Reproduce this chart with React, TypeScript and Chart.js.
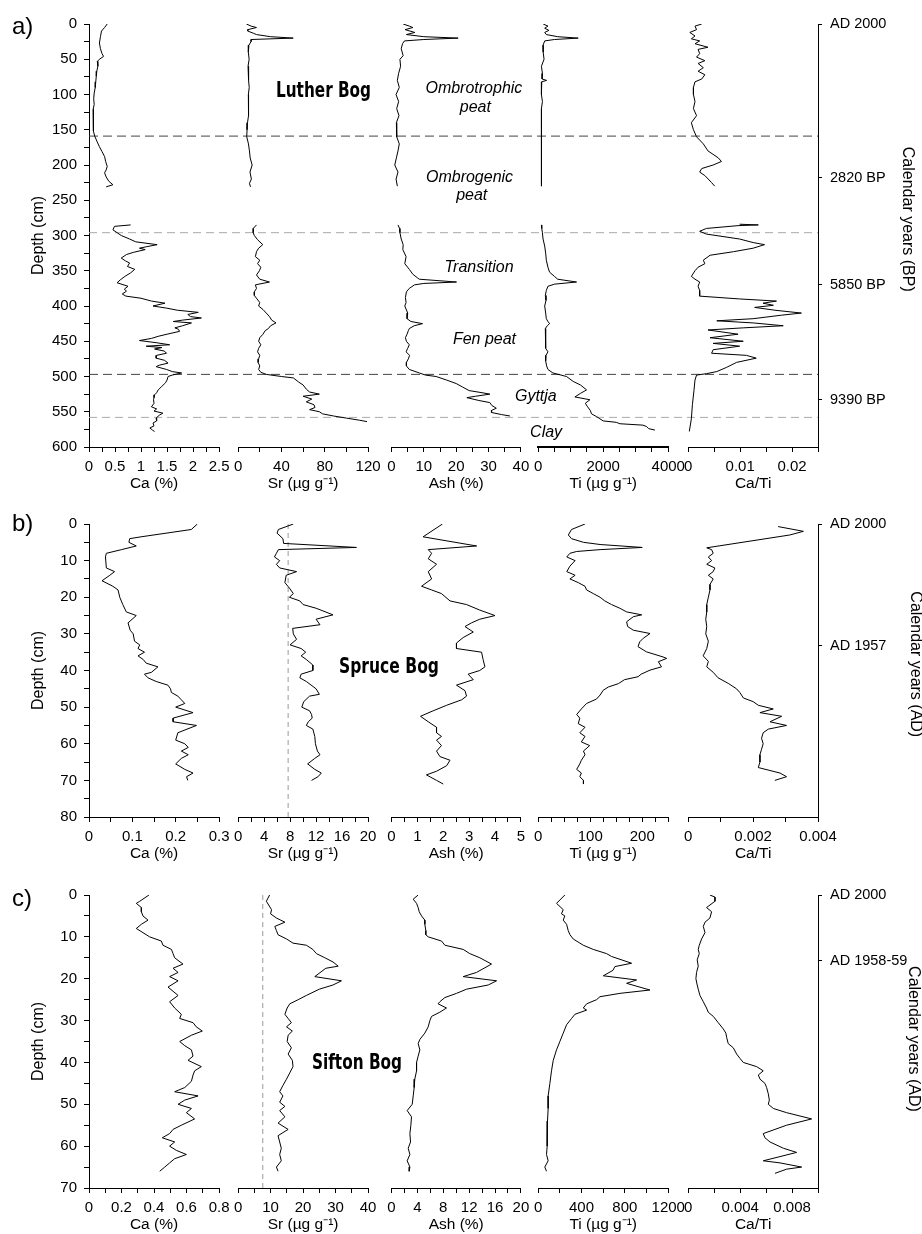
import React, { useEffect, useRef } from 'react';
import { Chart, registerables } from 'chart.js';

Chart.register(...registerables);

type Sample = [number, number | null];

// ---------- a) Luther Bog : [depth cm, value] ----------
const LUTHER_CA: Sample[] = [
  [0, 0.35], [5, 0.3], [10, 0.24], [18, 0.22], [27, 0.2], [35, 0.22], [42, 0.25], [46, 0.28], [50, 0.2], [53, 0.16],
  [60, 0.17], [67, 0.15], [74, 0.14], [82, 0.13], [90, 0.12], [98, 0.1], [106, 0.09], [114, 0.1], [121, 0.08], [130, 0.09],
  [138, 0.08], [145, 0.08], [152, 0.09], [159, 0.11], [166, 0.15], [174, 0.2], [181, 0.25], [188, 0.3], [195, 0.32], [202, 0.35],
  [207, 0.33], [211, 0.3], [217, 0.33], [223, 0.38], [228, 0.46], [231, 0.33], [258, null],
  [285, 0.8], [287, 0.49], [292, 0.46], [296, 0.54], [300, 0.62], [305, 0.78], [309, 0.9], [313, 1.31], [316, 1.1], [318, 0.97],
  [320, 1.08], [324, 0.85], [327, 0.72], [332, 0.62], [336, 0.7], [339, 0.78], [344, 0.74], [348, 0.88], [353, 0.8], [358, 0.69],
  [363, 0.6], [367, 0.54], [372, 0.75], [376, 0.68], [379, 0.72], [383, 0.64], [386, 0.71], [389, 1.0], [393, 1.2], [396, 1.46],
  [400, 1.23], [403, 1.49], [406, 1.7], [409, 2.1], [412, 1.9], [415, 1.95], [417, 2.16], [420, 1.8], [422, 1.62], [424, 1.97],
  [428, 1.8], [431, 1.65], [433, 1.72], [436, 1.74], [440, 1.5], [443, 1.33], [446, 1.2], [449, 0.97], [452, 1.29], [455, 1.55],
  [457, 1.1], [459, 1.4], [461, 1.26], [464, 1.45], [467, 1.49], [470, 1.3], [474, 1.29], [477, 1.45], [481, 1.52], [484, 1.35],
  [486, 1.29], [490, 1.49], [493, 1.6], [495, 1.78], [498, 1.6], [500, 1.52], [505, 1.5], [509, 1.47], [514, 1.4], [519, 1.33],
  [523, 1.3], [526, 1.26], [530, 1.25], [533, 1.24], [538, 1.25], [543, 1.2], [546, 1.3], [549, 1.25], [552, 1.42], [555, 1.35],
  [559, 1.29], [563, 1.3], [566, 1.23], [570, 1.25], [573, 1.17], [576, 1.22], [578, 1.26],
];
const LUTHER_SR: Sample[] = [
  [0, 7.7], [3, 12], [5, 17], [8, 9], [10, 8.9], [13, 14], [15, 17], [18, 30], [20, 50.9], [22, 12], [25, 12], [30, 10],
  [40, 9.5], [50, 10.2], [60, 9.2], [70, 10], [80, 9.4], [90, 10.3], [100, 9.5], [110, 10], [120, 9.2], [130, 9.8],
  [140, 8.7], [150, 8.3], [160, 8], [170, 9.6], [180, 10.5], [190, 11.2], [200, 13], [210, 11], [220, 12.3], [226, 10.5],
  [231, 11.5], [258, null],
  [285, 17], [290, 14], [296, 14], [300, 15], [306, 18], [313, 22.8], [318, 19], [323, 17], [330, 16], [335, 20],
  [340, 18], [345, 21], [350, 19.7], [356, 17], [362, 20], [366, 29], [370, 16], [375, 17], [380, 15], [385, 15],
  [390, 17.5], [395, 20], [400, 19], [405, 23], [410, 26], [415, 29], [420, 31], [424, 35], [428, 30], [432, 28],
  [435, 25], [440, 23], [445, 20], [450, 19], [455, 21], [460, 19], [465, 18], [470, 20], [475, 19], [480, 18.5],
  [485, 20], [490, 19], [494, 21], [497, 26], [500, 40], [502, 51], [508, 56], [512, 60], [518, 63], [522, 66],
  [525, 75], [528, 60], [532, 68], [536, 63], [540, 70], [544, 71], [547, 66], [550, 75], [553, 78], [556, 88],
  [559, 100], [562, 112], [564, 119],
];
const LUTHER_ASH: Sample[] = [
  [0, 3.6], [3, 5.5], [5, 6.6], [8, 4.2], [12, 7.2], [15, 4.6], [18, 10], [20, 20.6], [22, 10], [24, 4],
  [28, 3.4], [35, 3], [45, 3.6], [50, 2.6], [60, 2.8], [70, 2.2], [80, 1.8], [90, 2.4], [100, 1.4], [110, 2.2],
  [120, 1.6], [130, 2.3], [140, 1.5], [150, 1.6], [160, 1.6], [170, 2.4], [180, 2], [190, 1.5], [200, 1], [210, 2],
  [220, 1.4], [230, 1.8], [258, null],
  [285, 2], [290, 2.5], [296, 2.6], [305, 3], [313, 3.6], [320, 3.5], [330, 4.5], [340, 4.1], [348, 5.5], [355, 6.6],
  [360, 8], [362, 8.6], [366, 20.1], [368, 10], [370, 7.1], [375, 5.5], [380, 4.6], [388, 4.3], [395, 4.5], [400, 4.1],
  [410, 5], [418, 4.8], [422, 6], [425, 9.6], [428, 7], [432, 5.5], [435, 5.2], [440, 4.8], [445, 4.3], [450, 4.6],
  [455, 5.5], [460, 5], [465, 4.5], [470, 5.6], [475, 5.2], [480, 4.6], [485, 4.6], [490, 5.5], [495, 8.6], [498, 10.5],
  [500, 13.8], [505, 17], [510, 20], [515, 22], [520, 24], [523, 28], [525, 30.4], [528, 26], [530, 23.3], [534, 27],
  [537, 30.4], [541, 31], [545, 32.4], [548, 31], [551, 30.9], [554, 34], [556, 36.6],
];
const LUTHER_TI: Sample[] = [
  [0, 154], [3, 300], [6, 200], [9, 330], [12, 200], [15, 250], [18, 600], [20, 1231], [22, 500], [24, 200],
  [30, 150], [40, 154], [50, 180], [60, 100], [70, 130], [78, 120], [80, 260], [82, 110], [90, 100], [100, 100],
  [110, 130], [120, 100], [130, 110], [140, 90], [150, 100], [160, 100], [170, 110], [180, 90], [190, 100], [200, 110],
  [210, 95], [220, 105], [230, 100], [258, null],
  [285, 100], [290, 110], [296, 130], [305, 150], [315, 200], [325, 230], [335, 250], [345, 300], [352, 350], [358, 500],
  [362, 600], [366, 1180], [369, 500], [372, 300], [378, 250], [385, 220], [392, 240], [400, 200], [410, 230], [418, 250],
  [422, 300], [425, 350], [428, 280], [432, 220], [440, 230], [450, 220], [460, 240], [465, 300], [470, 240], [478, 230],
  [485, 260], [490, 300], [495, 453], [500, 872], [507, 1077], [512, 1300], [519, 1488], [524, 1300], [529, 1129], [533, 1590],
  [538, 1450], [543, 1520], [548, 1600], [553, 1642], [557, 1800], [560, 1898], [563, 2000], [565, 2400], [567, 2514], [569, 3222],
  [571, 3335], [574, 3400], [576, 3590],
];
const LUTHER_CATI: Sample[] = [
  [0, 0.0026], [3, 0.0013], [8, 0.0016], [12, 0.0003], [17, 0.0013], [21, 0.0006], [24, 0.0022], [28, 0.0013], [33, 0.0038], [36, 0.0019],
  [42, 0.0022], [47, 0.0016], [52, 0.0032], [56, 0.0019], [62, 0.0029], [67, 0.0019], [72, 0.0032], [78, 0.0026], [82, 0.0013], [90, 0.001],
  [100, 0.001], [110, 0.0013], [120, 0.001], [130, 0.0016], [140, 0.0006], [150, 0.001], [160, 0.0016], [170, 0.0029], [180, 0.0038], [190, 0.0058],
  [195, 0.0064], [200, 0.0048], [205, 0.0026], [210, 0.0022], [215, 0.0032], [225, 0.0045], [230, 0.0051], [258, null],
  [284, 0.0099], [285, 0.0135], [286, 0.0096], [290, 0.0035], [294, 0.0022], [298, 0.0035], [305, 0.0099], [310, 0.0125], [313, 0.0147], [318, 0.0125],
  [323, 0.0087], [328, 0.0042], [335, 0.0029], [340, 0.0032], [345, 0.0019], [350, 0.0013], [358, 0.0006], [362, 0.0013], [366, 0.0022], [372, 0.0019],
  [378, 0.0022], [386, 0.0022], [390, 0.0099], [393, 0.017], [396, 0.0144], [399, 0.0164], [402, 0.0128], [406, 0.0167], [410, 0.0218], [413, 0.018],
  [418, 0.0125], [421, 0.0055], [424, 0.0125], [428, 0.0183], [431, 0.0106], [434, 0.0038], [440, 0.0096], [445, 0.0042], [450, 0.0106], [453, 0.0048],
  [457, 0.0099], [462, 0.0048], [467, 0.0045], [470, 0.0112], [474, 0.0131], [480, 0.0093], [487, 0.0074], [493, 0.0055], [496, 0.0035], [498, 0.0016],
  [505, 0.0013], [520, 0.0011], [540, 0.0008], [560, 0.0006], [578, 0.0002],
];
const LUTHER_AGE_DEPTHS = [0, 218, 370, 533];
const LUTHER_AGE_LABELS = ['AD 2000', '2820 BP', '5850 BP', '9390 BP'];
const LUTHER_MAJOR_BOUNDARIES = [159, 497];
const LUTHER_MINOR_BOUNDARIES = [296, 558];

// ---------- b) Spruce Bog ----------
const SPRUCE_CA: Sample[] = [
  [0, 0.25], [1.5, 0.236], [3.5, 0.12], [4, 0.094], [5, 0.092], [6, 0.109], [7, 0.075], [8, 0.04], [9, 0.038], [12, 0.04],
  [13, 0.059], [14, 0.048], [15.5, 0.03], [17, 0.055], [18, 0.067], [20, 0.071], [22, 0.078], [24, 0.086], [25, 0.109], [27, 0.09],
  [29, 0.095], [30, 0.102], [32, 0.105], [33, 0.117], [34, 0.113], [35, 0.128], [36, 0.113], [37, 0.125], [38, 0.132], [39, 0.159],
  [40.5, 0.144], [41, 0.128], [42, 0.136], [43, 0.155], [44, 0.182], [45, 0.188], [46, 0.19], [47, 0.205], [48, 0.213], [49, 0.221],
  [50, 0.2], [51.5, 0.24], [53, 0.194], [54, 0.194], [55, 0.248], [57, 0.205], [59, 0.2], [60, 0.221], [61, 0.229], [62, 0.213],
  [63, 0.229], [64, 0.213], [65.5, 0.2], [67, 0.221], [68, 0.24], [69, 0.225], [70, 0.228],
];
const SPRUCE_SR: Sample[] = [
  [0, 8.5], [1.5, 6.2], [2.5, 6], [4, 6.9], [5.3, 7], [6.4, 18.2], [7, 6.2], [8, 5.9], [9, 5.6], [10, 6.4],
  [11, 5.9], [12, 6.4], [13, 9], [14, 7.4], [16, 7.2], [17.5, 7.9], [19, 8.5], [20, 7.9], [21, 9.5], [22, 10],
  [23, 12], [24.8, 14.6], [26, 12], [27.5, 12.6], [28.5, 8.4], [30, 8.5], [31.5, 9], [33, 8], [34, 9.7], [35, 10.4],
  [36, 9.7], [37, 10.5], [38.5, 11.5], [40, 11.5], [41, 9.7], [42, 9.5], [43, 10.5], [45, 12], [46.5, 12.5], [47, 11],
  [48.5, 10.1], [50, 9.8], [51, 11], [52, 11.3], [53, 11.4], [54, 10.8], [55, 10.5], [56, 11.5], [58, 11.8], [60, 11.9],
  [62, 12.2], [63, 12.6], [64, 11.8], [65.5, 10.7], [67, 11.8], [68, 12.8], [69, 12.3], [70, 11.3],
];
const SPRUCE_ASH: Sample[] = [
  [0, 1.97], [3.5, 1.22], [6, 3.29], [7, 1.42], [8, 1.55], [9.5, 1.42], [11, 1.74], [13, 1.42], [15, 1.55], [17, 1.16],
  [18, 1.55], [19, 1.93], [21, 2.26], [22, 2.9], [23.5, 3.41], [25, 4.0], [26, 3.41], [27, 3.09], [28, 2.84], [29.5, 3.16],
  [31, 2.77], [32.5, 2.51], [34, 2.51], [35, 3.48], [37, 3.54], [39, 3.61], [40, 3.41], [41, 2.96], [42.5, 3.16], [44, 2.51],
  [45.5, 2.84], [47, 2.9], [48, 2.71], [49.5, 2.13], [51, 1.61], [52.5, 1.12], [54, 1.42], [55.5, 1.74], [57, 1.74], [58, 1.93],
  [59, 1.74], [60.5, 1.93], [62, 1.74], [63.5, 1.87], [64.5, 2.26], [66, 2.13], [67.5, 1.74], [68.5, 1.35], [70, 1.74], [71, 2.0],
];
const SPRUCE_TI: Sample[] = [
  [0, 90], [1.5, 64], [3, 58], [4, 64], [5, 87], [5.6, 119], [6.4, 200], [7, 119], [7.5, 74], [8, 61],
  [9, 55], [10, 71], [11.5, 61], [13, 55], [14, 71], [15, 61], [16, 77], [17, 90], [18, 93], [19, 106],
  [20, 119], [21, 128], [22, 141], [23, 157], [24, 170], [24.8, 199], [25.3, 183], [26.7, 170], [28, 172], [29, 183],
  [29.9, 215], [31.2, 202], [32.2, 195], [33.5, 192], [34.9, 208], [36.3, 240], [36.7, 247], [37.6, 231], [39, 237], [39.9, 215],
  [41, 198], [41.7, 192], [42.5, 166], [43.6, 154], [44.5, 135], [45.4, 125], [46.7, 119], [47.8, 112], [49, 93], [50.5, 83],
  [52, 74], [53, 80], [54.5, 77], [55.5, 90], [57, 80], [58, 90], [59.5, 83], [60.5, 99], [62, 87], [63, 90],
  [64.5, 83], [65.5, 80], [67, 74], [68, 83], [69, 80], [70, 87], [71, 87],
];
const SPRUCE_CATI: Sample[] = [
  [0.7, 0.00277], [2, 0.00355], [3, 0.00313], [6.5, 0.00057], [7, 0.00072], [8, 0.00077], [9, 0.00062], [10, 0.00072], [11, 0.00057], [12, 0.00082],
  [13, 0.00077], [14, 0.00062], [15, 0.00077], [16.5, 0.00067], [18, 0.00067], [20, 0.00062], [22, 0.00057], [24, 0.00057], [26, 0.00054], [28, 0.00057],
  [30, 0.00054], [32, 0.00062], [34, 0.00057], [36, 0.00046], [37.5, 0.00062], [39, 0.00057], [40.5, 0.00077], [42, 0.00092], [43.5, 0.00123], [45, 0.00149],
  [46, 0.00159], [47.5, 0.0017], [48.5, 0.002], [49.5, 0.00216], [50.5, 0.00262], [51.5, 0.00221], [52.5, 0.00288], [54, 0.00252], [55, 0.00303], [56, 0.00247],
  [57, 0.00231], [58.5, 0.00226], [60, 0.00231], [61.5, 0.00226], [63, 0.00221], [65, 0.00221], [66.5, 0.00216], [68, 0.00283], [69, 0.00303], [70, 0.00267],
];
const SPRUCE_AGE_DEPTHS = [0, 33.3];
const SPRUCE_AGE_LABELS = ['AD 2000', 'AD 1957'];
const SPRUCE_SR_MARK = 7.7;

// ---------- c) Sifton Bog ----------
const SIFTON_CA: Sample[] = [
  [0, 0.369], [1.5, 0.312], [2, 0.291], [3, 0.322], [4, 0.322], [5, 0.332], [6, 0.363], [7, 0.322], [8, 0.291], [9, 0.332],
  [10, 0.373], [11, 0.445], [12, 0.455], [13, 0.507], [14, 0.517], [15, 0.527], [16.5, 0.578], [17.5, 0.517], [18.5, 0.548], [19.5, 0.496],
  [20.5, 0.548], [22, 0.486], [23, 0.517], [24, 0.548], [25.5, 0.496], [27, 0.527], [28.5, 0.568], [29.5, 0.558], [30.5, 0.64], [31.5, 0.66],
  [32.5, 0.697], [33.5, 0.63], [35, 0.558], [36, 0.589], [37, 0.63], [38.5, 0.64], [39.5, 0.609], [41, 0.691], [42, 0.65], [43, 0.64],
  [44.5, 0.63], [46, 0.589], [47, 0.527], [48, 0.671], [49, 0.589], [50, 0.548], [51, 0.63], [52, 0.599], [53.5, 0.65], [55, 0.568],
  [56, 0.517], [57, 0.496], [58, 0.451], [59, 0.527], [60, 0.496], [61, 0.537], [62, 0.599], [63, 0.527], [64, 0.496], [65, 0.466],
  [66, 0.435],
];
const SIFTON_SR: Sample[] = [
  [0, 9.7], [1.5, 8.7], [3.5, 10.3], [4.5, 10], [5.5, 11.8], [6.5, 14.4], [7.5, 11.3], [8.5, 11.8], [9.5, 12.3], [10.5, 14.9],
  [11.5, 16.9], [12, 21], [13, 23], [14, 24.1], [15, 26.7], [16, 29.2], [17, 30.8], [17.5, 27], [19.5, 23.6], [20.5, 31.8],
  [21.5, 29.2], [22.5, 25], [24, 21], [25, 18.5], [26, 15.9], [27, 15.1], [28.5, 14.4], [29.5, 15.4], [30.5, 16.4], [31.5, 14.9],
  [32.5, 16.7], [33.5, 15.4], [35, 15.1], [36.5, 16.4], [38, 15.4], [39.5, 16.7], [41, 16.9], [42.5, 15.9], [44, 14.9], [45.5, 13.8],
  [47, 12.8], [48, 13.8], [49.5, 12.8], [50.5, 14.4], [51.5, 12.8], [53, 14.4], [54.5, 12.3], [56, 15.4], [57.5, 12.3], [59, 12.8],
  [60.5, 13.3], [62, 12.8], [63.5, 13.3], [65, 11.8], [66, 12.3],
];
const SIFTON_ASH: Sample[] = [
  [0, 4.12], [1, 3.35], [2, 3.87], [3, 4.12], [4, 4.28], [5, 4.64], [6, 5.15], [7, 5.15], [8.5, 5.3], [9.5, 5.3],
  [10, 5.67], [11, 7.73], [12, 8.25], [13, 11.08], [14, 12.1], [15, 13.66], [16.5, 15.46], [18.5, 13.14], [19.5, 11.08], [20.5, 16.24],
  [21.5, 14.95], [22.5, 11.6], [23.5, 10.05], [24.5, 8.25], [25.5, 7.47], [26, 7.2], [27, 8.5], [28, 7.47], [29, 6.19], [30, 5.93],
  [31.5, 5.67], [33, 5.15], [34.5, 4.38], [35.5, 4.12], [37, 4.38], [38.5, 4.12], [40, 3.87], [42, 3.87], [44, 3.6], [46, 3.5],
  [48, 3.35], [50, 3.2], [51.5, 2.42], [53, 3.09], [55, 2.99], [57, 2.84], [59, 2.94], [60.5, 2.58], [62, 2.84], [63.5, 2.42],
  [65, 2.84], [66, 2.73],
];
const SIFTON_TI: Sample[] = [
  [0, 246], [2, 169], [3.5, 231], [4.5, 215], [5, 246], [6, 231], [7, 262], [8.5, 277], [9.5, 293], [10.5, 323],
  [11.5, 385], [12, 416], [13, 508], [14, 631], [14.7, 678], [16.3, 862], [17.1, 708], [18, 690], [19.3, 601], [20.3, 908],
  [21.1, 816], [22.7, 1031], [23.5, 754], [24.3, 570], [25, 539], [26, 447], [27, 416], [27.5, 447], [28.5, 339], [29.5, 308],
  [31, 262], [33, 231], [35, 200], [37, 169], [39.5, 139], [42, 123], [45, 108], [48, 92], [51, 92], [54, 86],
  [57, 83], [60, 83], [62, 77], [63.5, 92], [65, 61], [66, 77],
];
const SIFTON_CATI: Sample[] = [
  [0, 0.00167], [0.5, 0.00206], [1.5, 0.00206], [3, 0.00141], [4, 0.0018], [5.5, 0.00167], [6.5, 0.00129], [7.5, 0.00116], [9, 0.00129], [10.5, 0.00103],
  [12, 0.00085], [13, 0.00077], [14, 0.00085], [15.5, 0.00069], [17, 0.00077], [18.5, 0.00064], [20, 0.00059], [21.5, 0.00069], [22.5, 0.00077], [24, 0.0009],
  [25.5, 0.00116], [27, 0.00141], [28, 0.00154], [29, 0.00193], [30.5, 0.00231], [32, 0.0027], [33, 0.0029], [34, 0.00296], [35.5, 0.00308], [36.5, 0.00347],
  [38, 0.00373], [39, 0.00398], [40, 0.00424], [41, 0.00527], [42, 0.00578], [43, 0.0054], [44, 0.00553], [45, 0.00591], [46, 0.00604], [47.5, 0.00617],
  [49, 0.00625], [50, 0.00617], [51, 0.00656], [52, 0.00758], [53.5, 0.00951], [55, 0.00758], [56, 0.00668], [57, 0.00578], [58, 0.00591], [59, 0.0063],
  [60.5, 0.00733], [61.5, 0.00835], [62.5, 0.00707], [63.5, 0.00578], [64, 0.00707], [65, 0.00874], [65.5, 0.00758], [66.5, 0.00668],
];
const SIFTON_AGE_DEPTHS = [0, 15.7];
const SIFTON_AGE_LABELS = ['AD 2000', 'AD 1958-59'];
const SIFTON_SR_MARK = 7.6;

// Shared column titles
const COLUMN_TITLES = ['Ca (%)', 'Sr (µg g⁻¹)', 'Ash (%)', 'Ti (µg g⁻¹)', 'Ca/Ti'];
const COLUMN_KEYS = ['ca', 'sr', 'ash', 'ti', 'cati'];

// ---------- layout ----------
const FONT = '"Liberation Sans", Arial, Helvetica, sans-serif';
const NARROW = '"Liberation Sans Narrow", "DejaVu Sans Condensed", "Liberation Sans", sans-serif';
const COLUMN_WIDTHS = [130, 130, 129.3, 130, 129.7];
const COLUMN_GAPS = [19, 23.4, 17.3, 20];
const LEFT_AXIS_WIDTH = 89;
const RIGHT_AXIS_WIDTH = 104;

type Column = { series: Sample[]; max: number; minor: number; major: number; borderWidth?: number };
type Note = { text: string; frac: number; depth: number; style: 'name' | 'unit'; width?: number };
type Panel = {
  id: string; letter: string; top: number; height: number; padTop: number; axisHeight: number; titlePad: number;
  depthMax: number; depthMinor: number; depthMajor: number; letterBaseline: number;
  ageDepths: number[]; ageLabels: string[]; ageTitle: string; ageTitleX: number; ageTitleDepth: number;
  columns: Column[];
  hLines: { depth: number; color: string; dash: number[] }[];
  srMark?: number;
  notes: Note[];
};

const PANELS: Panel[] = [
  {
    id: 'a', letter: 'a)', top: 0, height: 497, padTop: 24, axisHeight: 50, titlePad: 4,
    depthMax: 600, depthMinor: 25, depthMajor: 50, letterBaseline: 34,
    ageDepths: LUTHER_AGE_DEPTHS, ageLabels: LUTHER_AGE_LABELS, ageTitle: 'Calendar years (BP)', ageTitleX: 907, ageTitleDepth: 277,
    columns: [
      { series: LUTHER_CA, max: 2.5, minor: 0.25, major: 0.5 },
      { series: LUTHER_SR, max: 120, minor: 20, major: 40 },
      { series: LUTHER_ASH, max: 40, minor: 5, major: 10 },
      { series: LUTHER_TI, max: 4000, minor: 500, major: 2000, borderWidth: 2 },
      { series: LUTHER_CATI, max: 0.025, minor: 0.005, major: 0.01 },
    ],
    hLines: [
      ...LUTHER_MAJOR_BOUNDARIES.map((d) => ({ depth: d, color: '#444', dash: [9, 5] })),
      ...LUTHER_MINOR_BOUNDARIES.map((d) => ({ depth: d, color: '#aaa', dash: [8, 5] })),
    ],
    notes: [
      { text: 'Luther Bog', frac: 0.3217, depth: 95, style: 'name', width: 95 },
      { text: 'Ombrotrophic', frac: 0.528, depth: 92, style: 'unit' },
      { text: 'peat', frac: 0.53, depth: 118, style: 'unit' },
      { text: 'Ombrogenic', frac: 0.522, depth: 218, style: 'unit' },
      { text: 'peat', frac: 0.525, depth: 243, style: 'unit' },
      { text: 'Transition', frac: 0.535, depth: 345, style: 'unit' },
      { text: 'Fen peat', frac: 0.5425, depth: 447, style: 'unit' },
      { text: 'Gyttja', frac: 0.613, depth: 528, style: 'unit' },
      { text: 'Clay', frac: 0.627, depth: 579, style: 'unit' },
    ],
  },
  {
    id: 'b', letter: 'b)', top: 497, height: 370, padTop: 27, axisHeight: 50, titlePad: 4,
    depthMax: 80, depthMinor: 5, depthMajor: 10, letterBaseline: 34,
    ageDepths: SPRUCE_AGE_DEPTHS, ageLabels: SPRUCE_AGE_LABELS, ageTitle: 'Calendar years (AD)', ageTitleX: 915, ageTitleDepth: 38.3,
    columns: [
      { series: SPRUCE_CA, max: 0.3, minor: 0.05, major: 0.1 },
      { series: SPRUCE_SR, max: 20, minor: 2, major: 4 },
      { series: SPRUCE_ASH, max: 5, minor: 0.5, major: 1 },
      { series: SPRUCE_TI, max: 250, minor: 25, major: 100 },
      { series: SPRUCE_CATI, max: 0.004, minor: 0.001, major: 0.002 },
    ],
    hLines: [],
    srMark: SPRUCE_SR_MARK,
    notes: [{ text: 'Spruce Bog', frac: 0.4115, depth: 39, style: 'name', width: 100 }],
  },
  {
    id: 'c', letter: 'c)', top: 867, height: 367, padTop: 28, axisHeight: 46, titlePad: 0,
    depthMax: 70, depthMinor: 5, depthMajor: 10, letterBaseline: 39,
    ageDepths: SIFTON_AGE_DEPTHS, ageLabels: SIFTON_AGE_LABELS, ageTitle: 'Calendar years (AD)', ageTitleX: 913, ageTitleDepth: 34.4,
    columns: [
      { series: SIFTON_CA, max: 0.8, minor: 0.1, major: 0.2 },
      { series: SIFTON_SR, max: 40, minor: 5, major: 10 },
      { series: SIFTON_ASH, max: 20, minor: 2, major: 4 },
      { series: SIFTON_TI, max: 1200, minor: 200, major: 400 },
      { series: SIFTON_CATI, max: 0.01, minor: 0.002, major: 0.004 },
    ],
    hLines: [],
    srMark: SIFTON_SR_MARK,
    notes: [{ text: 'Sifton Bog', frac: 0.3676, depth: 40.1, style: 'name', width: 90 }],
  },
];

// ---------- helpers ----------
const fmt = (v: number) => String(+v.toFixed(6));
const isMultiple = (v: number, step: number) => Math.abs(v / step - Math.round(v / step)) < 1e-6;
const stepTicks = (max: number, step: number) =>
  Array.from({ length: Math.round(max / step) + 1 }, (_, i) => ({ value: +(i * step).toFixed(8) }));

const tickFont = { family: FONT, size: 15 };

function notesPlugin(p: Panel) {
  return {
    id: 'panelNotes',
    afterDraw(chart: any) {
      const { ctx } = chart;
      const xf = chart.scales.xf;
      const y = chart.scales.y;
      ctx.save();
      ctx.fillStyle = '#000';
      ctx.font = `24px ${FONT}`;
      ctx.textAlign = 'left';
      ctx.textBaseline = 'alphabetic';
      ctx.fillText(p.letter, 12, p.letterBaseline);

      ctx.save();
      ctx.translate(p.ageTitleX, y.getPixelForValue(p.ageTitleDepth));
      ctx.rotate(Math.PI / 2);
      ctx.font = `16px ${FONT}`;
      ctx.textAlign = 'center';
      ctx.textBaseline = 'middle';
      ctx.fillText(p.ageTitle, 0, 0);
      ctx.restore();

      for (const n of p.notes) {
        const cx = xf.getPixelForValue(n.frac);
        const cy = y.getPixelForValue(n.depth);
        ctx.save();
        ctx.textAlign = 'center';
        ctx.textBaseline = 'middle';
        if (n.style === 'name') {
          ctx.font = `bold 22px ${NARROW}`;
          const w = ctx.measureText(n.text).width;
          ctx.translate(cx, cy);
          ctx.scale((n.width || w) / w, 1);
          ctx.fillText(n.text, 0, 0);
        } else {
          ctx.font = `italic 16px ${FONT}`;
          ctx.fillText(n.text, cx, cy);
        }
        ctx.restore();
      }
      ctx.restore();
    },
  };
}

function buildConfig(p: Panel): any {
  const scales: any = {
    y: {
      type: 'linear', axis: 'y', position: 'left', min: 0, max: p.depthMax, reverse: true,
      afterBuildTicks: (s: any) => { s.ticks = stepTicks(p.depthMax, p.depthMinor); },
      afterFit: (s: any) => { s.width = LEFT_AXIS_WIDTH; },
      ticks: {
        autoSkip: false, padding: 7, color: '#000', font: tickFont,
        callback: (v: number) => (isMultiple(v, p.depthMajor) ? fmt(v) : ''),
      },
      grid: { drawOnChartArea: false, tickLength: 5, color: '#000', tickColor: '#000' },
      border: { color: '#000', width: 1 },
      title: { display: true, text: 'Depth (cm)', color: '#000', font: { family: FONT, size: 16 }, padding: { top: 29, bottom: 0 } },
    },
    yr: {
      type: 'linear', axis: 'y', position: 'right', min: 0, max: p.depthMax, reverse: true,
      afterBuildTicks: (s: any) => { s.ticks = p.ageDepths.map((v) => ({ value: v })); },
      afterFit: (s: any) => { s.width = RIGHT_AXIS_WIDTH; },
      ticks: {
        autoSkip: false, padding: 8, color: '#000', font: { family: FONT, size: 14.5 },
        callback: (_v: number, i: number) => p.ageLabels[i],
      },
      grid: { drawOnChartArea: false, tickLength: 4, color: '#000', tickColor: '#000' },
      border: { color: '#000', width: 1 },
    },
  };

  p.columns.forEach((c, i) => {
    scales[COLUMN_KEYS[i]] = {
      type: 'linear', axis: 'x', position: 'bottom', stack: 'columns', stackWeight: COLUMN_WIDTHS[i],
      min: 0, max: c.max,
      afterBuildTicks: (s: any) => { s.ticks = stepTicks(c.max, c.minor); },
      afterFit: (s: any) => { s.height = p.axisHeight; },
      ticks: {
        autoSkip: false, maxRotation: 0, minRotation: 0, padding: 6, color: '#000', font: tickFont,
        callback: (v: number) => (isMultiple(v, c.major) ? fmt(v) : ''),
      },
      grid: { drawOnChartArea: false, tickLength: 5, color: '#000', tickColor: '#000' },
      border: { color: '#000', width: c.borderWidth || 1 },
      title: {
        display: true, text: COLUMN_TITLES[i], color: '#000', font: { family: FONT, size: 15.5 },
        padding: { top: 0, bottom: p.titlePad },
      },
    };
    if (i < COLUMN_GAPS.length) {
      scales['gap' + i] = {
        type: 'linear', axis: 'x', position: 'bottom', stack: 'columns', stackWeight: COLUMN_GAPS[i],
        min: 0, max: 1,
        afterFit: (s: any) => { s.height = p.axisHeight; },
        ticks: { display: false },
        grid: { display: false },
        border: { display: false },
        title: { display: false },
      };
    }
  });

  scales.xf = { type: 'linear', axis: 'x', position: 'bottom', display: false, min: 0, max: 1 };

  const datasets: any[] = [];
  p.hLines.forEach((h) => {
    datasets.push({
      data: [{ x: 0, y: h.depth }, { x: 1, y: h.depth }],
      xAxisID: 'xf', yAxisID: 'y', showLine: true, borderColor: h.color, borderDash: h.dash,
      borderWidth: 1, pointRadius: 0, order: 2,
    });
  });
  if (p.srMark !== undefined) {
    datasets.push({
      data: [{ x: p.srMark, y: 0 }, { x: p.srMark, y: p.depthMax }],
      xAxisID: 'sr', yAxisID: 'y', showLine: true, borderColor: '#999', borderDash: [5, 4],
      borderWidth: 1, pointRadius: 0, order: 2,
    });
  }
  p.columns.forEach((c, i) => {
    datasets.push({
      data: c.series.map(([d, v]) => ({ x: v, y: d })),
      xAxisID: COLUMN_KEYS[i], yAxisID: 'y', showLine: true, spanGaps: false,
      borderColor: '#000', borderWidth: 1, borderJoinStyle: 'bevel', pointRadius: 0, tension: 0, order: 1,
    });
  });

  return {
    type: 'scatter',
    data: { datasets },
    options: {
      responsive: false,
      animation: false,
      devicePixelRatio: 1,
      events: [],
      layout: { padding: { top: p.padTop, left: 0, right: 0, bottom: 0 } },
      plugins: { legend: { display: false }, tooltip: { enabled: false } },
      scales,
    },
    plugins: [notesPlugin(p)],
  };
}

function PanelChart({ panel }: { panel: Panel }) {
  const ref = useRef<HTMLCanvasElement | null>(null);
  useEffect(() => {
    if (!ref.current) return;
    const chart = new Chart(ref.current, buildConfig(panel));
    return () => chart.destroy();
  }, [panel]);
  return (
    <canvas
      ref={ref}
      width={922}
      height={panel.height}
      style={{ position: 'absolute', left: 0, top: panel.top, width: 922, height: panel.height, display: 'block' }}
    />
  );
}

export default function App() {
  return (
    <div style={{ position: 'absolute', left: 0, top: 0, width: 922, height: 1234, overflow: 'hidden', background: '#fff' }}>
      {PANELS.map((p) => (
        <PanelChart key={p.id} panel={p} />
      ))}
    </div>
  );
}
